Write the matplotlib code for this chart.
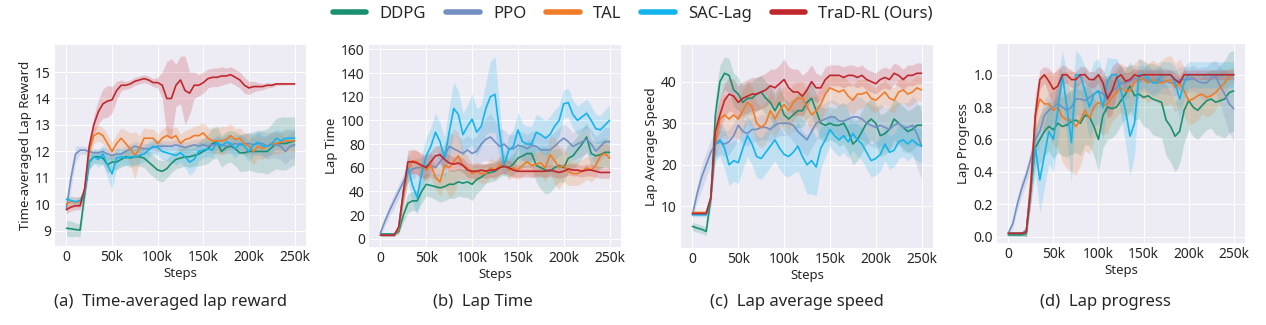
import numpy as np
import matplotlib
matplotlib.use("Agg")
import matplotlib.pyplot as plt
from matplotlib.ticker import FuncFormatter
from matplotlib.lines import Line2D
import seaborn as sns

sns.set_style("darkgrid")
plt.rcParams['font.family'] = ['Noto Sans', 'DejaVu Sans']

steps = np.arange(0, 255000, 5000)  # 0 .. 250k every 5k

methods = ["DDPG", "PPO", "TAL", "SAC-Lag", "TraD-RL (Ours)"]
colors = ["#1a9070", "#7290c2", "#f07c28", "#14b4ec", "#c0272d"]

# (a) time-averaged lap reward
a_ddpg = [9.1,9.08,9.05,9.03,10.4,11.6,11.8,11.8,11.75,11.5, 11.6,11.6,11.7,11.8,11.75,11.8,11.8,11.75,11.6,11.45,
          11.3,11.25,11.35,11.55,11.7,11.75,11.8,11.8,11.85,11.9, 12.0,12.1,12.3,12.35,12.0,12.15,12.2,12.1,11.95,11.95,
          12.0,12.0,12.0,12.0,12.0,12.15,12.3,12.3,12.3,12.35,12.4]
a_ppo = [9.85,11.0,11.9,12.05,12.05,12.0,11.95,11.95,12.0,11.9, 11.85,11.9,11.9,12.0,12.1,12.2,12.15,12.1,12.1,12.15,
         12.2,12.2,12.2,12.2,12.25,12.2,12.15,12.2,12.25,12.2, 12.25,12.2,12.25,12.25,12.25,12.2,12.25,12.3,12.25,12.3,
         12.3,12.25,12.3,12.3,12.2,12.25,12.25,12.2,12.0,12.2,12.25]
a_tal = [10.0,10.1,10.1,10.1,10.5,12.0,12.6,12.7,12.6,12.3, 12.0,12.3,12.5,12.3,12.1,11.85,12.1,12.5,12.5,12.5,
         12.3,12.5,12.6,12.5,12.6,12.3,12.45,12.5,12.6,12.6, 12.7,12.5,12.4,12.4,12.4,12.45,12.6,12.45,12.5,12.3,
         12.2,12.0,12.2,12.1,12.2,12.3,12.3,12.35,12.4,12.4,12.4]
a_sac = [10.2,10.15,10.1,10.15,10.5,11.6,11.8,11.7,11.9,11.5, 11.15,11.75,11.8,11.75,11.8,11.8,11.85,11.9,12.05,12.2,
         12.15,12.0,11.95,11.9,11.85,11.95,11.8,11.6,11.7,12.0, 12.05,12.1,12.05,12.35,12.2,12.35,12.3,12.1,12.3,12.2,
         12.0,12.25,12.35,12.2,12.2,12.3,12.5,12.4,12.5,12.5,12.5]
a_trad = [9.8,9.9,9.95,9.95,10.6,12.2,13.0,13.5,13.8,13.9, 13.95,14.3,14.5,14.5,14.55,14.65,14.7,14.75,14.7,14.6,
          14.6,14.5,14.0,14.0,14.5,14.7,14.3,14.2,14.5,14.5, 14.6,14.75,14.8,14.8,14.85,14.85,14.9,14.8,14.7,14.5,
          14.4,14.45,14.45,14.45,14.5,14.5,14.55,14.55,14.55,14.55,14.55]
a_ddpg_sd = [0.3,0.3,0.25,0.25,0.3,0.3,0.25,0.25,0.25,0.3, 0.3,0.3,0.3,0.3,0.35,0.35,0.35,0.35,0.4,0.4,
             0.4,0.4,0.35,0.35,0.35,0.35,0.35,0.4,0.4,0.45, 0.5,0.55,0.6,0.6,0.6,0.6,0.6,0.65,0.7,0.7,
             0.7,0.75,0.8,0.8,0.85,0.9,0.95,1.0,1.0,0.95,0.9]
a_ppo_sd = [0.3,0.4,0.3,0.15,0.15,0.15,0.15,0.15,0.15,0.2, 0.2,0.2,0.2,0.2,0.2,0.2,0.2,0.2,0.2,0.2,
            0.2,0.2,0.2,0.2,0.2,0.2,0.2,0.2,0.2,0.25, 0.25,0.25,0.3,0.3,0.3,0.3,0.3,0.35,0.35,0.4,
            0.4,0.4,0.45,0.45,0.5,0.5,0.5,0.5,0.5,0.5,0.5]
a_tal_sd = [0.2,0.2,0.2,0.2,0.25,0.3,0.3,0.3,0.3,0.35, 0.35,0.35,0.4,0.5,0.6,0.9,0.5,0.4,0.35,0.35,
            0.35,0.35,0.35,0.35,0.35,0.35,0.35,0.35,0.35,0.4, 0.4,0.4,0.45,0.5,0.55,0.5,0.45,0.4,0.4,0.4,
            0.45,0.5,0.45,0.4,0.4,0.4,0.4,0.4,0.4,0.4,0.4]
a_sac_sd = [0.15,0.15,0.15,0.15,0.2,0.25,0.25,0.3,0.35,0.5, 0.6,0.4,0.3,0.3,0.3,0.3,0.3,0.3,0.3,0.3,
            0.3,0.3,0.3,0.3,0.35,0.35,0.4,0.5,0.45,0.35, 0.3,0.3,0.3,0.3,0.3,0.3,0.35,0.35,0.35,0.35,
            0.4,0.4,0.4,0.4,0.4,0.4,0.35,0.35,0.35,0.35,0.35]
a_trad_sd = [0.15,0.15,0.15,0.15,0.2,0.25,0.35,0.45,0.55,0.6, 0.5,0.35,0.2,0.15,0.15,0.15,0.15,0.15,0.15,0.15,
             0.2,0.5,1.4,1.5,0.8,0.9,1.3,0.8,0.5,0.4, 0.4,0.35,0.35,0.35,0.35,0.3,0.3,0.3,0.3,0.3,
             0.25,0.2,0.15,0.12,0.1,0.08,0.06,0.05,0.04,0.03,0.03]

# (b) lap time
b_ddpg = [4,4,4,4,6,20,30,32,32,40, 46,45,44,43,44,46,46,48,47,48,
          46,50,52,55,56,57,60,62,60,63, 68,70,72,72,62,60,58,57,60,62,
          60,68,70,75,80,86,72,70,71,73,73]
b_ppo = [5,15,24,32,40,48,56,59,60,60, 62,62,60,65,70,78,76,74,72,75,
         72,74,80,84,86,82,78,80,76,76, 79,78,76,79,78,75,75,75,78,82,
         85,82,78,80,82,84,80,74,78,82,82]
b_tal = [3,3,3,3,8,35,58,66,65,60, 58,62,52,48,62,60,65,70,62,60,
         55,57,55,55,60,58,62,64,58,60, 58,62,65,62,63,64,60,71,66,60,
         62,57,55,55,57,60,58,62,70,72,68]
b_sac = [3,3,3,3,10,40,60,45,35,55, 70,78,90,82,68,90,110,105,88,95,
         101,90,95,110,120,122,90,62,75,78, 92,82,80,80,90,88,85,88,95,100,
         114,115,105,100,103,106,100,93,92,96,100]
b_trad = [3,3,3,3,10,40,65,65,64,62, 60,65,70,71,67,64,63,64,62,58,
          57,57,58,57,58,58,60,61,60,58, 57,57,57,57,57,57,57,58,57,56,
          57,59,58,58,57,58,58,57,56,56,56]
b_ddpg_sd = [1,1,1,1,2,6,8,8,9,10, 10,10,11,12,12,12,12,12,12,13,
             14,12,10,8,8,8,8,8,8,9, 10,10,11,12,14,18,20,18,16,14,
             12,12,12,12,12,12,12,12,12,12,12]
b_ppo_sd = [3,4,5,6,6,7,8,8,8,9, 10,10,10,10,11,12,12,12,12,12,
            12,13,15,18,20,18,15,12,12,12, 12,12,12,12,12,12,12,12,12,12,
            12,12,12,12,12,12,12,12,12,12,12]
b_tal_sd = [1,1,1,1,3,8,10,10,10,10, 10,10,10,12,18,25,28,20,12,10,
            8,8,8,8,8,8,8,8,8,8, 8,9,10,10,10,10,12,15,20,18,
            14,12,10,10,10,10,10,10,10,10,10]
b_sac_sd = [1,1,1,1,4,10,12,14,15,15, 16,16,16,16,18,22,22,20,18,18,
            22,20,18,22,30,32,22,10,12,14, 15,15,15,15,15,15,15,15,14,13,
            12,12,12,12,12,12,12,12,12,13,13]
b_trad_sd = [1,1,1,1,3,8,10,10,10,10, 10,9,8,8,7,7,6,6,6,6,
             6,6,6,6,6,6,6,6,6,6, 5,5,5,5,5,5,5,5,5,5,
             5,5,5,5,5,5,5,5,5,5,5]

# (c) lap average speed
c_ddpg = [5.2,4.8,4.5,4.0,12,32,40,42,41.5,38, 37,35,36,36,37,37.5,36,35,33,35,
          32,31,32,33,33,35,36,33,30,29.5, 30,29.5,29.5,30,28,25,26,28,30,31,
          30,27,27.5,28.5,31,30,29,28,28.5,29.5,29.5]
c_ppo = [8,13,17,20,23,25,25.5,25,25.5,27, 29.5,28,27.5,28.5,28.5,29,29,28.5,29.5,30,
         30,30,29.5,28,27,26,28,30,30.5,31, 31.5,31.5,30.5,30.5,31,31.5,31.5,31,30,29.5,
         29,29.5,29,28.5,29.5,30,29,29,29.5,27.5,24.5]
c_tal = [8.5,8.5,8.5,8.5,12,25,31,32,31,32, 31,33,35,34,30,29,30,33,31,33,
         34.5,33,35,36,36,34,32,33,34.5,37, 38.5,38,37.5,38,36.5,35.5,37,37,37.5,36,
         35.5,36.5,37.5,36,35.5,37.5,38,37,37.5,38.5,38]
c_sac = [8,8,8,8,12,25,26,24,20,21, 20.5,24,27,25,22,21.5,23,24.5,26,24,
         22.5,22,23,24.5,22,20,21,19.5,24,26, 28.5,27,26,27,25.5,27.5,26,25,23,21,
         21.5,22.5,25,23,23.5,25.5,26,25,26,25,24.5]
c_trad = [8.3,8.3,8.3,8.3,12,28,32,35.5,37,36.5, 35,36,36.5,37,37,37.5,38,39,38.5,39.5,
          40.5,38.5,37.5,37.5,36.5,38,40,38.5,38.5,40.5, 41.5,41.5,41.5,41,41.5,41.5,41,41.5,40.5,40,
          39.5,40.5,41,40.5,42,41.5,40.5,41.5,41.5,42,42]
c_ddpg_sd = [1,1,1,1,2,4,4,4,4,4, 4,4,4,4,4,4,4,4,4,4,
             4,4,4,4,4,4,4,4,4,4, 4,4,5,5,5,5,5,5,5,5,
             5,5,5,5,5,5,5,5,5,5,5]
c_ppo_sd = [1,2,3,3,3,3,3,3,3,3, 3,3,3,3,3,3,3,3,3,3,
            3,3,4,4,4,4,4,4,4,4, 4,4,4,4,4,5,5,5,5,5,
            5,5,5,5,5,5,6,6,7,8,8]
c_tal_sd = [0.5,0.5,0.5,0.5,1.5,4,5,5,5,5, 5,5,5,5,5,5,5,5,4.5,4.5,
            4.5,4.5,4.5,4,4,4,4,4,4,4, 3.5,3.5,3.5,3.5,3.5,3.5,3.5,3.5,3,3,
            3,3,3,3,3,3,3,3,3,3,3]
c_sac_sd = [0.5,0.5,0.5,0.5,1.5,4,4,5,5,5, 5,5,5,5,5,5,5,5,5,5,
            5,5,5,6,6,7,8,7,5,4, 4,4,4,4,4,4,4,4,4,4,
            4,4,4,4,4,4,4,4,4,4,4]
c_trad_sd = [0.5,0.5,0.5,0.5,1.5,3,4,4,4,4, 4,4,4,4,4,4,4,4,4.5,4.5,
             5,5,5.5,5.5,5,4.5,4,3.5,3,3, 2.5,2.5,2.5,2.5,2.5,2.5,2.5,2.5,2.5,2.5,
             2.5,2.5,2.5,2.5,2.5,2.5,2.5,2.5,2.5,2.5,2.5]

# (d) lap progress
d_ddpg = [0.01,0.01,0.01,0.01,0.02,0.3,0.55,0.6,0.65,0.68, 0.66,0.7,0.68,0.69,0.71,0.72,0.7,0.75,0.74,0.68,
          0.6,0.75,0.8,0.79,0.8,0.84,0.88,0.93,0.87,0.88, 0.86,0.87,0.85,0.84,0.83,0.72,0.68,0.62,0.65,0.78,
          0.84,0.8,0.78,0.81,0.84,0.85,0.83,0.84,0.85,0.89,0.9]
d_ppo = [0.02,0.08,0.2,0.3,0.38,0.48,0.6,0.65,0.75,0.78, 0.8,0.82,0.8,0.78,0.8,0.85,0.85,0.84,0.86,0.88,
         0.9,0.88,0.87,0.9,0.92,0.95,0.95,0.96,0.98,0.97, 0.98,0.96,0.96,0.97,0.96,0.96,0.95,0.95,0.97,0.97,
         0.97,0.98,0.96,0.95,0.95,0.98,0.99,0.93,0.88,0.82,0.79]
d_tal = [0.02,0.02,0.02,0.02,0.03,0.35,0.75,0.85,0.82,0.82, 0.78,0.8,0.74,0.72,0.72,0.68,0.72,0.78,0.73,0.8,
         0.83,0.81,0.82,0.86,0.89,0.92,0.9,0.9,0.95,0.98, 0.97,0.95,0.97,0.95,0.95,0.96,0.97,0.92,0.95,0.9,
         0.84,0.85,0.87,0.88,0.86,0.87,0.89,0.92,0.95,0.99,1.0]
d_sac = [0.02,0.02,0.02,0.02,0.03,0.3,0.55,0.35,0.5,0.65, 0.6,0.78,1.0,0.8,0.58,1.0,1.0,0.9,0.8,0.88,
         0.9,0.8,0.96,1.0,1.0,0.9,0.78,0.62,0.7,1.0, 1.0,0.98,0.95,0.95,1.0,1.0,1.0,0.95,0.85,0.95,
         1.0,1.0,1.0,1.0,1.0,1.0,1.0,1.0,1.0,1.0,1.0]
d_trad = [0.02,0.02,0.02,0.02,0.03,0.3,0.75,0.97,1.0,0.96, 0.91,0.93,1.0,1.0,0.97,0.97,1.0,1.0,0.97,0.97,
          1.0,0.95,0.85,0.9,0.98,1.0,0.96,0.97,1.0,0.99, 1.0,1.0,1.0,1.0,1.0,1.0,1.0,0.97,0.95,1.0,
          1.0,1.0,1.0,1.0,1.0,1.0,1.0,1.0,1.0,1.0,1.0]
d_ddpg_sd = [0.01,0.01,0.01,0.01,0.02,0.08,0.12,0.15,0.15,0.15, 0.18,0.18,0.18,0.2,0.2,0.2,0.2,0.18,0.18,0.18,
             0.2,0.2,0.2,0.18,0.16,0.15,0.15,0.15,0.15,0.15, 0.18,0.2,0.22,0.22,0.22,0.22,0.22,0.22,0.2,0.2,
             0.18,0.18,0.18,0.18,0.18,0.18,0.2,0.22,0.24,0.25,0.25]
d_ppo_sd = [0.02,0.03,0.04,0.05,0.05,0.06,0.08,0.1,0.1,0.1, 0.1,0.1,0.1,0.1,0.1,0.1,0.1,0.1,0.1,0.1,
            0.1,0.1,0.1,0.1,0.1,0.1,0.1,0.1,0.08,0.08, 0.08,0.08,0.08,0.08,0.08,0.08,0.08,0.08,0.08,0.08,
            0.08,0.08,0.08,0.1,0.1,0.1,0.1,0.12,0.15,0.18,0.2]
d_tal_sd = [0.01,0.01,0.01,0.01,0.03,0.1,0.15,0.15,0.18,0.2, 0.22,0.25,0.28,0.3,0.32,0.3,0.28,0.25,0.22,0.2,
            0.18,0.18,0.18,0.15,0.15,0.15,0.15,0.15,0.12,0.12, 0.12,0.12,0.12,0.12,0.14,0.15,0.15,0.15,0.15,0.15,
            0.15,0.15,0.15,0.12,0.12,0.12,0.1,0.1,0.08,0.05,0.05]
d_sac_sd = [0.01,0.01,0.01,0.01,0.03,0.1,0.15,0.2,0.2,0.2, 0.2,0.2,0.15,0.2,0.25,0.15,0.12,0.15,0.2,0.2,
            0.2,0.2,0.15,0.1,0.1,0.15,0.2,0.24,0.2,0.1, 0.08,0.08,0.08,0.08,0.08,0.08,0.08,0.1,0.12,0.1,
            0.08,0.08,0.08,0.08,0.08,0.08,0.08,0.08,0.08,0.08,0.08]
d_trad_sd = [0.01,0.01,0.01,0.01,0.03,0.1,0.1,0.06,0.05,0.08, 0.1,0.1,0.06,0.05,0.05,0.05,0.05,0.05,0.05,0.05,
             0.05,0.08,0.12,0.15,0.1,0.06,0.05,0.05,0.04,0.04, 0.03,0.03,0.03,0.03,0.03,0.03,0.03,0.04,0.05,0.03,
             0.03,0.03,0.03,0.03,0.03,0.03,0.03,0.03,0.03,0.03,0.03]

panels = [
    ([a_ddpg, a_ppo, a_tal, a_sac, a_trad], [a_ddpg_sd, a_ppo_sd, a_tal_sd, a_sac_sd, a_trad_sd],
     "Time-averaged Lap Reward", "(a)  Time-averaged lap reward", [9, 10, 11, 12, 13, 14, 15], (8.43, 16.02), None),
    ([b_ddpg, b_ppo, b_tal, b_sac, b_trad], [b_ddpg_sd, b_ppo_sd, b_tal_sd, b_sac_sd, b_trad_sd],
     "Lap Time", "(b)  Lap Time", [0, 20, 40, 60, 80, 100, 120, 140, 160], (-7, 163.7), None),
    ([c_ddpg, c_ppo, c_tal, c_sac, c_trad], [c_ddpg_sd, c_ppo_sd, c_tal_sd, c_sac_sd, c_trad_sd],
     "Lap Average Speed", "(c)  Lap average speed", [10, 20, 30, 40], (0, 48.8), None),
    ([d_ddpg, d_ppo, d_tal, d_sac, d_trad], [d_ddpg_sd, d_ppo_sd, d_tal_sd, d_sac_sd, d_trad_sd],
     "Lap Progress", "(d)  Lap progress", [0.0, 0.2, 0.4, 0.6, 0.8, 1.0], (-0.04, 1.19), "%.1f"),
]

W, H = 1266, 325
boxes = [(55, 45, 251, 201), (369, 45, 252, 202), (681, 45, 252, 203), (997, 44, 248, 199)]
caption_x = [171, 483, 797, 1105]

fig = plt.figure(figsize=(W / 100, H / 100), dpi=100)

for (means, sds, ylabel, caption, yticks, ylim, yfmt), (x0, y0, w, h), cx in zip(panels, boxes, caption_x):
    ax = fig.add_axes([x0 / W, 1 - (y0 + h) / H, w / W, h / H])
    ax.set_facecolor("#edebf4")
    for m, s, c in zip(means, sds, colors):
        m = np.array(m, dtype=float)
        s = np.array(s, dtype=float)
        ax.fill_between(steps, m - s, m + s, color=c, alpha=0.2, linewidth=0)
        ax.plot(steps, m, color=c, linewidth=1.2)
    ax.set_xlim(-12500, 262500)
    ax.set_ylim(*ylim)
    ax.set_xticks([0, 50000, 100000, 150000, 200000, 250000])
    ax.xaxis.set_major_formatter(FuncFormatter(lambda v, p: "0" if v == 0 else f"{int(v / 1000)}k"))
    ax.set_yticks(yticks)
    if yfmt:
        ax.yaxis.set_major_formatter(FuncFormatter(lambda v, p: f"{v:.1f}"))
    ax.tick_params(labelsize=10, length=0, pad=3)
    ax.set_xlabel("Steps", fontsize=9.5, labelpad=1)
    ax.set_ylabel(ylabel, fontsize=9.5, labelpad=2)
    for sp in ax.spines.values():
        sp.set_visible(False)
    fig.text(cx / W, 1 - 302 / H, caption, ha="center", va="center", fontsize=12)

handles = [Line2D([0], [0], color=c, linewidth=4) for c in colors]
fig.legend(handles, methods, loc="center", bbox_to_anchor=(0.5, 1 - 14 / H), ncol=5,
           frameon=False, fontsize=12, handlelength=2.0, columnspacing=1.2, handletextpad=0.8)

fig.savefig("out.png", dpi=100)
